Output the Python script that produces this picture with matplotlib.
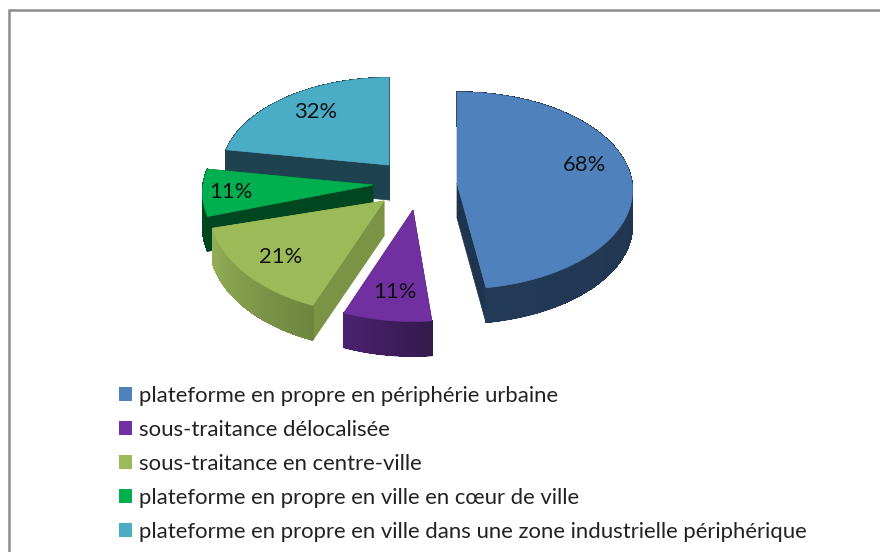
import numpy as np
import matplotlib
matplotlib.use('Agg')
import matplotlib.pyplot as plt
from matplotlib.colors import to_rgb
from matplotlib.patches import Patch, Polygon

# Data
labels = ['plateforme en propre en périphérie urbaine',
          'sous-traitance délocalisée',
          'sous-traitance en centre-ville',
          'plateforme en propre en ville en cœur de ville',
          'plateforme en propre en ville dans une zone industrielle périphérique']
values = [68, 11, 21, 11, 32]

# Style
top_colors = ['#4F81BD', '#7030A0', '#9BBB59', '#00B050', '#4BACC6']
rim_light = ['#233A56', '#4C2270', '#93AF55', '#00461F', '#1E4250']
rim_dark = ['#1E3049', '#341A4B', '#6E8540', '#00461F', '#1E4250']
cut_colors = ['#1F344F', '#341A4B', '#7A9345', '#00461F', '#1E4250']

# Layout, in pixels: where each exploded slice has its tip, and its radii.
# angle_shift stands in for the skew of the original 3D projection
apex_x = [457, 413, 384, 373, 389]
apex_y = [183, 210, 201, 185, 165]
radius_x = [175, 172, 174, 170, 167]
radius_y = [98, 103, 105, 98, 94]
angle_shift = [0, 3, 3.5, 0, 0]
label_x = [584, 395, 281, 231, 316]
label_y = [165, 292, 257, 192, 112]
PERSPECTIVE = 0.076
DEPTH = 35
FONT = ['Lato', 'DejaVu Sans']


def slice_outline(i, start, stop):
    # outline of the top face, arc going clockwise from north
    angles = np.radians(np.linspace(start, stop, 80) + angle_shift[i])
    u, v = np.sin(angles), np.cos(angles)
    w = 1 + PERSPECTIVE * v
    x = apex_x[i] + radius_x[i] * u / w
    y = apex_y[i] - radius_y[i] * v / w
    return x, y


def draw_slice(ax, i, start, stop):
    x, y = slice_outline(i, start, stop)
    ax0, ay0 = apex_x[i], apex_y[i]

    # the two cut faces
    for xe, ye in ((x[0], y[0]), (x[-1], y[-1])):
        quad = [(ax0, ay0), (xe, ye), (xe, ye + DEPTH), (ax0, ay0 + DEPTH)]
        ax.add_patch(Polygon(quad, facecolor=cut_colors[i],
                             edgecolor=cut_colors[i], lw=0.5))

    # outer rim, the arc runs clockwise so it gets lighter towards its left end
    c0, c1 = np.array(to_rgb(rim_dark[i])), np.array(to_rgb(rim_light[i]))
    # a smooth base first, the aliased strips only shade the inside of it
    base = np.r_[np.column_stack([x, y]),
                 np.column_stack([x, y + DEPTH])[::-1]]
    ax.add_patch(Polygon(base, facecolor=(c0 + c1) / 2,
                         edgecolor=(c0 + c1) / 2, lw=0.5))
    for k in range(len(x) - 1):
        t = k / (len(x) - 2)
        col = c0 + (c1 - c0) * t
        quad = [(x[k], y[k]), (x[k + 1], y[k + 1]),
                (x[k + 1], y[k + 1] + DEPTH - 0.5), (x[k], y[k] + DEPTH - 0.5)]
        ax.add_patch(Polygon(quad, facecolor=col, edgecolor=col, lw=0.5,
                             antialiased=False))

    # top face
    top = np.column_stack([np.r_[ax0, x], np.r_[ay0, y]])
    ax.add_patch(Polygon(top, facecolor=top_colors[i],
                         edgecolor=top_colors[i], lw=0.5))


fig = plt.figure(figsize=(8.8, 5.52), dpi=100)
ax = fig.add_axes([0, 0, 1, 1])
ax.set_xlim(0, 880)
ax.set_ylim(552, 0)
ax.axis('off')

# frame of the pasted chart, only top and left are in the crop
ax.plot([9, 9, 880], [552, 10, 10], color='#8C8C8C', lw=1.8,
        solid_joinstyle='miter')

# slice angles come from the values, back slices are painted first
edges = np.r_[0, np.cumsum(values)] / float(sum(values)) * 360
for i in [4, 3, 0, 2, 1]:
    draw_slice(ax, i, edges[i], edges[i + 1])

for i, val in enumerate(values):
    ax.text(label_x[i], label_y[i], '%d%%' % val, ha='center', va='center',
            fontsize=15.8, color='#111111', family=FONT)

handles = [Patch(facecolor=c, edgecolor='none') for c in top_colors]
ax.legend(handles, labels, loc='upper left', bbox_to_anchor=(119, 386),
          bbox_transform=ax.transData, frameon=False,
          handlelength=0.6, handleheight=0.6, handletextpad=0.3,
          labelspacing=0.63, borderpad=0, borderaxespad=0,
          labelcolor='#222222', prop={'family': FONT, 'size': 15.9})

fig.savefig('out.png', dpi=100)
